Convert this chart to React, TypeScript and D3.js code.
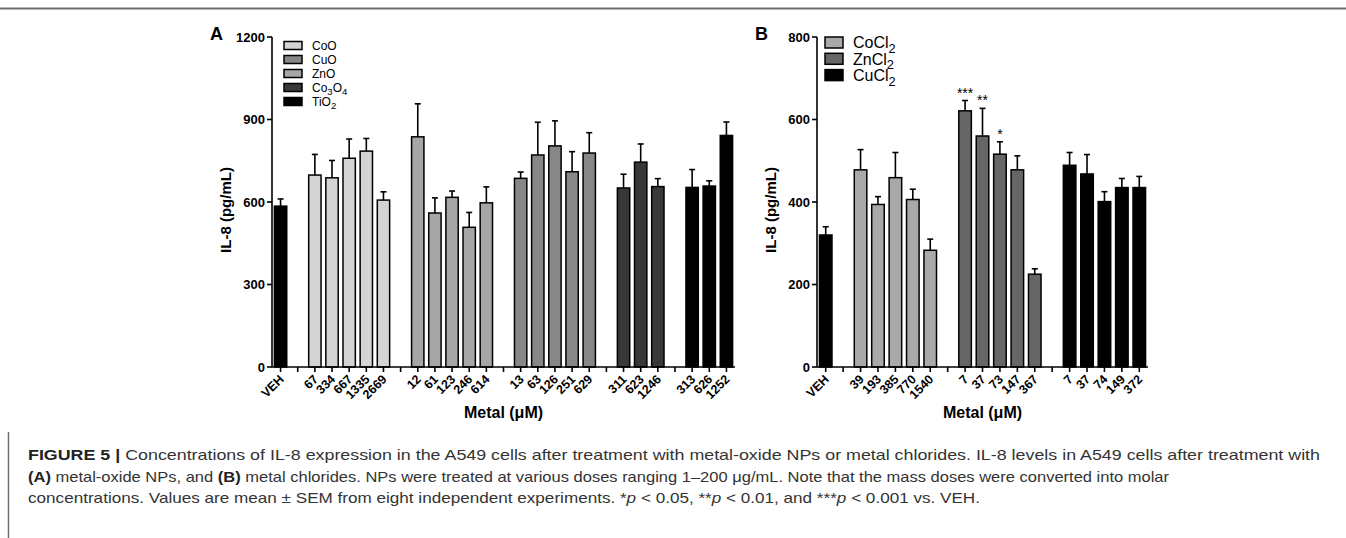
import React from "react";
import * as d3 from "d3";

// Panel A: metal-oxide NPs
const dosesA = [
  ["VEH"],
  ["67", "334", "667", "1335", "2669"],
  ["12", "61", "123", "246", "614"],
  ["13", "63", "126", "251", "629"],
  ["311", "623", "1246"],
  ["313", "626", "1252"],
];
const meansA = [
  [585],
  [698, 688, 759, 785, 607],
  [837, 560, 617, 508, 597],
  [686, 771, 804, 710, 778],
  [651, 745, 656],
  [653, 658, 842],
];
const semA = [
  [26],
  [75, 63, 70, 46, 30],
  [120, 55, 23, 54, 58],
  [23, 119, 91, 73, 74],
  [50, 66, 29],
  [65, 19, 49],
];
const barColorsA = ["#000000", "#d4d4d4", "#a6a6a6", "#878787", "#383838", "#000000"];
const ticksA = [0, 300, 600, 900, 1200];
const legendA = ["CoO", "CuO", "ZnO", "Co3O4", "TiO2"];
const legendColorsA = ["#d4d4d4", "#878787", "#a6a6a6", "#383838", "#000000"];

// Panel B: metal chlorides
const dosesB = [
  ["VEH"],
  ["39", "193", "385", "770", "1540"],
  ["7", "37", "73", "147", "367"],
  ["7", "37", "74", "149", "372"],
];
const meansB = [
  [320],
  [478, 394, 459, 406, 283],
  [621, 560, 516, 478, 225],
  [489, 468, 401, 435, 435],
];
const semB = [
  [20],
  [49, 19, 61, 25, 27],
  [25, 67, 30, 34, 13],
  [31, 47, 24, 22, 27],
];
const sigB = [[""], ["", "", "", "", ""], ["***", "**", "*", "", ""], ["", "", "", "", ""]];
const barColorsB = ["#000000", "#a9a9a9", "#666666", "#000000"];
const ticksB = [0, 200, 400, 600, 800];
const legendB = ["CoCl2", "ZnCl2", "CuCl2"];
const legendColorsB = ["#a9a9a9", "#666666", "#000000"];

const captionLines = [
  [
    ["b", "FIGURE 5 | "],
    ["n", "Concentrations of IL-8 expression in the A549 cells after treatment with metal-oxide NPs or metal chlorides. IL-8 levels in A549 cells after treatment with"],
  ],
  [
    ["b", "(A)"],
    ["n", " metal-oxide NPs, and "],
    ["b", "(B)"],
    ["n", " metal chlorides. NPs were treated at various doses ranging 1–200 μg/mL. Note that the mass doses were converted into molar"],
  ],
  [
    ["n", "concentrations. Values are mean ± SEM from eight independent experiments. *"],
    ["i", "p"],
    ["n", " < 0.05, **"],
    ["i", "p"],
    ["n", " < 0.01, and ***"],
    ["i", "p"],
    ["n", " < 0.001 vs. VEH."],
  ],
];
const captionWidths = [1292, 1141, 952];

const FONT = "'Liberation Sans', Arial, Helvetica, sans-serif";

type Slot = { label: string; mean: number; sem: number; color: string; sig: string } | null;

function buildSlots(doses: string[][], means: number[][], sems: number[][], colors: string[], sig?: string[][]) {
  const slots: Slot[] = [];
  doses.forEach((g, gi) => {
    if (gi > 0) slots.push(null);
    g.forEach((d, i) =>
      slots.push({ label: d, mean: means[gi][i], sem: sems[gi][i], color: colors[gi], sig: sig ? sig[gi][i] : "" })
    );
  });
  return slots;
}

// chemical formula: digits become subscripts
function Formula({ text, size }: { text: string; size: number }) {
  const parts = text.split(/(\d+)/).filter((p) => p.length);
  return (
    <>
      {parts.map((p, i) =>
        /\d/.test(p) ? (
          <tspan key={i} fontSize={size * 0.8} dy={size * 0.3}>
            {p}
          </tspan>
        ) : (
          <tspan key={i} dy={i > 0 ? -size * 0.3 : 0}>
            {p}
          </tspan>
        )
      )}
    </>
  );
}

function Panel(props: {
  slots: Slot[];
  x0: number;
  x1: number;
  top: number;
  bottom: number;
  ticks: number[];
  letter: string;
  legend: string[];
  legendColors: string[];
  legendX: number;
  legendY: number;
  legendStep: number;
  legendFont: number;
  swatchH: number;
}) {
  const { slots, x0, x1, top, bottom, ticks } = props;
  const x = d3.scaleBand<number>().domain(d3.range(slots.length)).range([x0, x1]);
  const y = d3.scaleLinear().domain([0, ticks[ticks.length - 1]]).range([bottom, top]);
  const step = x.bandwidth();
  const bw = step * 0.72;
  const cx = (i: number) => (x(i) as number) + step / 2;

  return (
    <g fontFamily={FONT}>
      {/* bars */}
      {slots.map((s, i) =>
        s ? (
          <g key={i}>
            <line x1={cx(i)} x2={cx(i)} y1={y(s.mean)} y2={y(s.mean + s.sem)} stroke="#000" strokeWidth={1.6} />
            <line x1={cx(i) - 3} x2={cx(i) + 3} y1={y(s.mean + s.sem)} y2={y(s.mean + s.sem)} stroke="#000" strokeWidth={1.6} />
            <rect x={cx(i) - bw / 2} y={y(s.mean)} width={bw} height={y(0) - y(s.mean)} fill={s.color} stroke="#000" strokeWidth={1.5} />
            {s.sig && (
              <text x={cx(i)} y={y(s.mean + s.sem) - 3} textAnchor="middle" fontSize={14} fill="#000">
                {s.sig}
              </text>
            )}
          </g>
        ) : null
      )}
      {/* y axis */}
      <line x1={x0} x2={x0} y1={y(0)} y2={y(ticks[ticks.length - 1])} stroke="#000" strokeWidth={1.6} />
      {ticks.map((t) => (
        <g key={t}>
          <line x1={x0 - 5} x2={x0} y1={y(t)} y2={y(t)} stroke="#000" strokeWidth={1.6} />
          <text x={x0 - 7} y={y(t) + 4.5} textAnchor="end" fontSize={13} fontWeight="bold">
            {t}
          </text>
        </g>
      ))}
      <text
        transform={`translate(${x0 - 41},${(top + bottom) / 2 + 8}) rotate(-90)`}
        textAnchor="middle"
        fontSize={15}
        fontWeight="bold"
      >
        IL-8 (pg/mL)
      </text>
      {/* x axis */}
      <line x1={x0} x2={x1} y1={y(0)} y2={y(0)} stroke="#000" strokeWidth={1.6} />
      {slots.map((s, i) => (
        <g key={i}>
          <line x1={cx(i)} x2={cx(i)} y1={y(0)} y2={y(0) + 5} stroke="#000" strokeWidth={1.6} />
          {s && (
            <text
              transform={`translate(${cx(i) + 4},${y(0) + 13}) rotate(-45)`}
              textAnchor="end"
              fontSize={12.5}
              fontWeight="bold"
            >
              {s.label}
            </text>
          )}
        </g>
      ))}
      <text x={(x0 + x1) / 2} y={418} textAnchor="middle" fontSize={16} fontWeight="bold">
        Metal (μM)
      </text>
      {/* panel letter */}
      <text x={x0 - 62} y={40} fontSize={18} fontWeight="bold">
        {props.letter}
      </text>
      {/* legend */}
      {props.legend.map((name, i) => {
        const ly = props.legendY + i * props.legendStep;
        return (
          <g key={name}>
            <rect
              x={props.legendX}
              y={ly - props.swatchH / 2}
              width={18}
              height={props.swatchH}
              fill={props.legendColors[i]}
              stroke="#000"
              strokeWidth={1.5}
            />
            <text x={props.legendX + 28} y={ly + props.legendFont * 0.36} fontSize={props.legendFont}>
              <Formula text={name} size={props.legendFont} />
            </text>
          </g>
        );
      })}
    </g>
  );
}

export default function App() {
  const slotsA = buildSlots(dosesA, meansA, semA, barColorsA);
  const slotsB = buildSlots(dosesB, meansB, semB, barColorsB, sigB);
  return (
    <svg
      width={1346}
      height={538}
      style={{ position: "absolute", left: 0, top: 0, display: "block", background: "#fff" }}
    >
      <rect width={1346} height={538} fill="#fff" />
      <line x1={0} x2={1346} y1={8.5} y2={8.5} stroke="#6e6e6e" strokeWidth={2} />
      <line x1={8.5} x2={8.5} y1={432} y2={538} stroke="#6e6e6e" strokeWidth={1.5} />
      <Panel
        slots={slotsA}
        x0={272}
        x1={735}
        top={37}
        bottom={367}
        ticks={ticksA}
        letter="A"
        legend={legendA}
        legendColors={legendColorsA}
        legendX={284}
        legendY={45.5}
        legendStep={14}
        legendFont={12}
        swatchH={8}
      />
      <Panel
        slots={slotsB}
        x0={817}
        x1={1148}
        top={37}
        bottom={367}
        ticks={ticksB}
        letter="B"
        legend={legendB}
        legendColors={legendColorsB}
        legendX={825}
        legendY={42.5}
        legendStep={16.3}
        legendFont={16}
        swatchH={11}
      />
      {captionLines.map((line, li) => (
        <text
          key={li}
          x={28}
          y={460 + li * 21.5}
          fontFamily={FONT}
          fontSize={15}
          fill="#333"
          textLength={captionWidths[li]}
          lengthAdjust="spacingAndGlyphs"
        >
          {line.map(([k, t], i) => (
            <tspan key={i} fontWeight={k === "b" ? "bold" : "normal"} fontStyle={k === "i" ? "italic" : "normal"} fill={k === "b" ? "#222" : "#333"}>
              {t}
            </tspan>
          ))}
        </text>
      ))}
    </svg>
  );
}
